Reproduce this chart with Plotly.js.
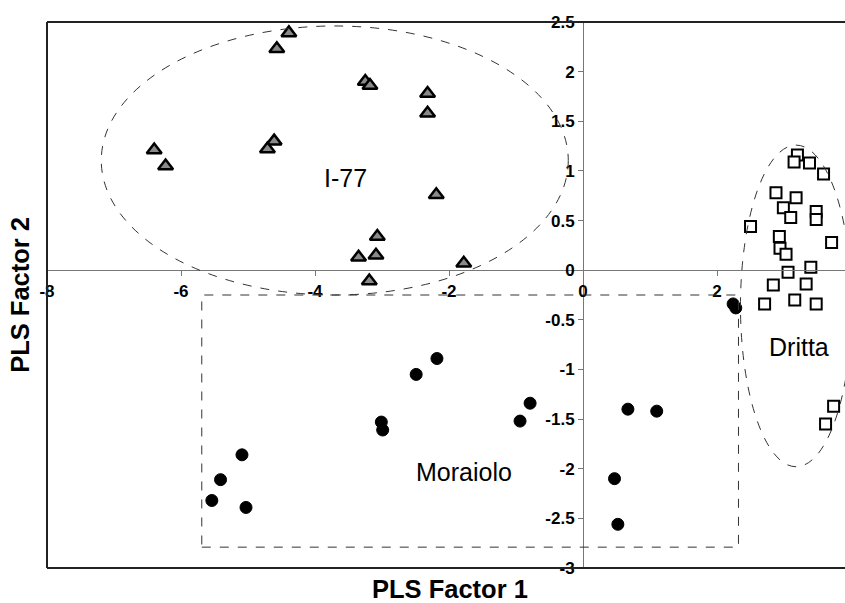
<!DOCTYPE html>
<html>
<head>
<meta charset="utf-8">
<script src="https://cdn.plot.ly/plotly-3.0.1.min.js"></script>
<style>html,body{margin:0;padding:0;background:#fff;}#chart{width:845px;height:603px;}</style>
</head>
<body>
<div id="chart"></div>
<script>
// I-77 (triangles)
const i77X = [-4.39, -4.57, -3.25, -3.18, -2.32, -2.32, -6.40, -6.23, -4.61, -4.71, -2.19, -3.07, -3.35, -3.09, -3.19, -1.78];
const i77Y = [2.39, 2.23, 1.90, 1.86, 1.78, 1.58, 1.21, 1.05, 1.30, 1.22, 0.76, 0.34, 0.13, 0.15, -0.11, 0.07];
// Dritta (squares)
const drittaX = [3.20, 3.15, 3.38, 3.59, 2.88, 3.18, 2.99, 3.10, 3.48, 3.48, 2.50, 2.93, 3.71, 2.94, 3.03, 3.40, 3.06, 2.84, 3.33, 2.71, 3.16, 3.48, 3.74, 3.62];
const drittaY = [1.16, 1.09, 1.08, 0.97, 0.78, 0.73, 0.63, 0.53, 0.59, 0.51, 0.44, 0.34, 0.28, 0.22, 0.16, 0.03, -0.02, -0.15, -0.14, -0.34, -0.30, -0.34, -1.37, -1.55];
// Moraiolo (circles)
const moraioloX = [-2.18, -2.49, -3.01, -2.99, -0.79, -0.94, -5.09, -5.41, -5.54, -5.03, 2.24, 2.28, 0.67, 1.10, 0.47, 0.52];
const moraioloY = [-0.89, -1.05, -1.53, -1.61, -1.34, -1.52, -1.86, -2.11, -2.32, -2.39, -0.34, -0.38, -1.40, -1.42, -2.10, -2.56];
// group labels
const groupNames = ['I-77', 'Moraiolo', 'Dritta'];
const groupLabelX = [-3.55, -1.78, 3.22];
const groupLabelY = [0.93, -2.03, -0.77];
// axis
const xTitle = 'PLS Factor 1';
const yTitle = 'PLS Factor 2';
const xTicks = [-8, -6, -4, -2, 0, 2];
const yTicks = [-3, -2.5, -2, -1.5, -1, -0.5, 0, 0.5, 1, 1.5, 2, 2.5];

const xRange = [-8, 3.91];
const yRange = [-3, 2.5];

const traces = [
  {x: i77X, y: i77Y, type: 'scatter', mode: 'markers', name: 'I-77',
   marker: {symbol: 'triangle-up', size: 13, color: '#8a8a8a', line: {color: '#000', width: 2.5}}},
  {x: drittaX, y: drittaY, type: 'scatter', mode: 'markers', name: 'Dritta',
   marker: {symbol: 'square', size: 11, color: '#fff', line: {color: '#000', width: 2}}},
  {x: moraioloX, y: moraioloY, type: 'scatter', mode: 'markers', name: 'Moraiolo',
   marker: {symbol: 'circle', size: 12, color: '#000', line: {color: '#000', width: 1}}}
];

const tickFont = {family: 'Liberation Sans, Arial, sans-serif', size: 17, color: '#000', weight: 'bold'};
const titleFont = {family: 'Liberation Sans, Arial, sans-serif', size: 25.5, color: '#000', weight: 'bold'};
const labelFont = {family: 'Liberation Sans, Arial, sans-serif', size: 25, color: '#000'};

const annotations = groupNames.map((t, i) => ({
  x: groupLabelX[i], y: groupLabelY[i], xref: 'x', yref: 'y', text: t,
  showarrow: false, font: labelFont, xanchor: 'center', yanchor: 'middle'
}));
annotations.push({x: 0.505, y: -0.038, xref: 'paper', yref: 'paper', text: xTitle,
  showarrow: false, font: titleFont, xanchor: 'center', yanchor: 'middle'});
annotations.push({x: -0.034, y: 0.5, xref: 'paper', yref: 'paper', text: yTitle, textangle: -90,
  showarrow: false, font: titleFont, xanchor: 'center', yanchor: 'middle'});

const dashLine = {color: '#333', width: 1, dash: 'dash'};
const frameLine = {color: '#222', width: 2};
const shapes = [
  {type: 'circle', xref: 'x', yref: 'y', x0: -7.19, x1: -0.22, y0: -0.25, y1: 2.46, line: dashLine},
  {type: 'circle', xref: 'x', yref: 'y', x0: 2.35, x1: 4.01, y0: -1.98, y1: 1.26, line: dashLine},
  {type: 'rect', xref: 'x', yref: 'y', x0: -5.69, x1: 2.32, y0: -2.79, y1: -0.25, line: dashLine},
  {type: 'line', xref: 'paper', yref: 'paper', x0: 0, x1: 1, y0: 1, y1: 1, line: frameLine},
  {type: 'line', xref: 'paper', yref: 'paper', x0: 0, x1: 1, y0: 0, y1: 0, line: frameLine},
  {type: 'line', xref: 'paper', yref: 'paper', x0: 0, x1: 0, y0: 0, y1: 1, line: frameLine}
];

const layout = {
  width: 845, height: 603,
  margin: {l: 47, r: 0, t: 22, b: 35},
  paper_bgcolor: '#fff', plot_bgcolor: '#fff',
  showlegend: false,
  xaxis: {
    range: xRange, anchor: 'free', position: 3 / 5.5,
    tickmode: 'array', tickvals: xTicks, ticktext: xTicks.map(String),
    showgrid: false, zeroline: false, showline: true, linecolor: '#777', linewidth: 1,
    ticks: 'outside', ticklen: 5, tickcolor: '#777', tickfont: tickFont
  },
  yaxis: {
    range: yRange, anchor: 'free', position: 8 / 11.91,
    tickmode: 'array', tickvals: yTicks, ticktext: yTicks.map(String),
    showgrid: false, zeroline: false, showline: true, linecolor: '#777', linewidth: 1,
    ticks: 'outside', ticklen: 5, tickcolor: '#777', tickfont: tickFont
  },
  shapes: shapes,
  annotations: annotations
};

Plotly.newPlot('chart', traces, layout, {displayModeBar: false, staticPlot: true});
</script>
</body>
</html>
